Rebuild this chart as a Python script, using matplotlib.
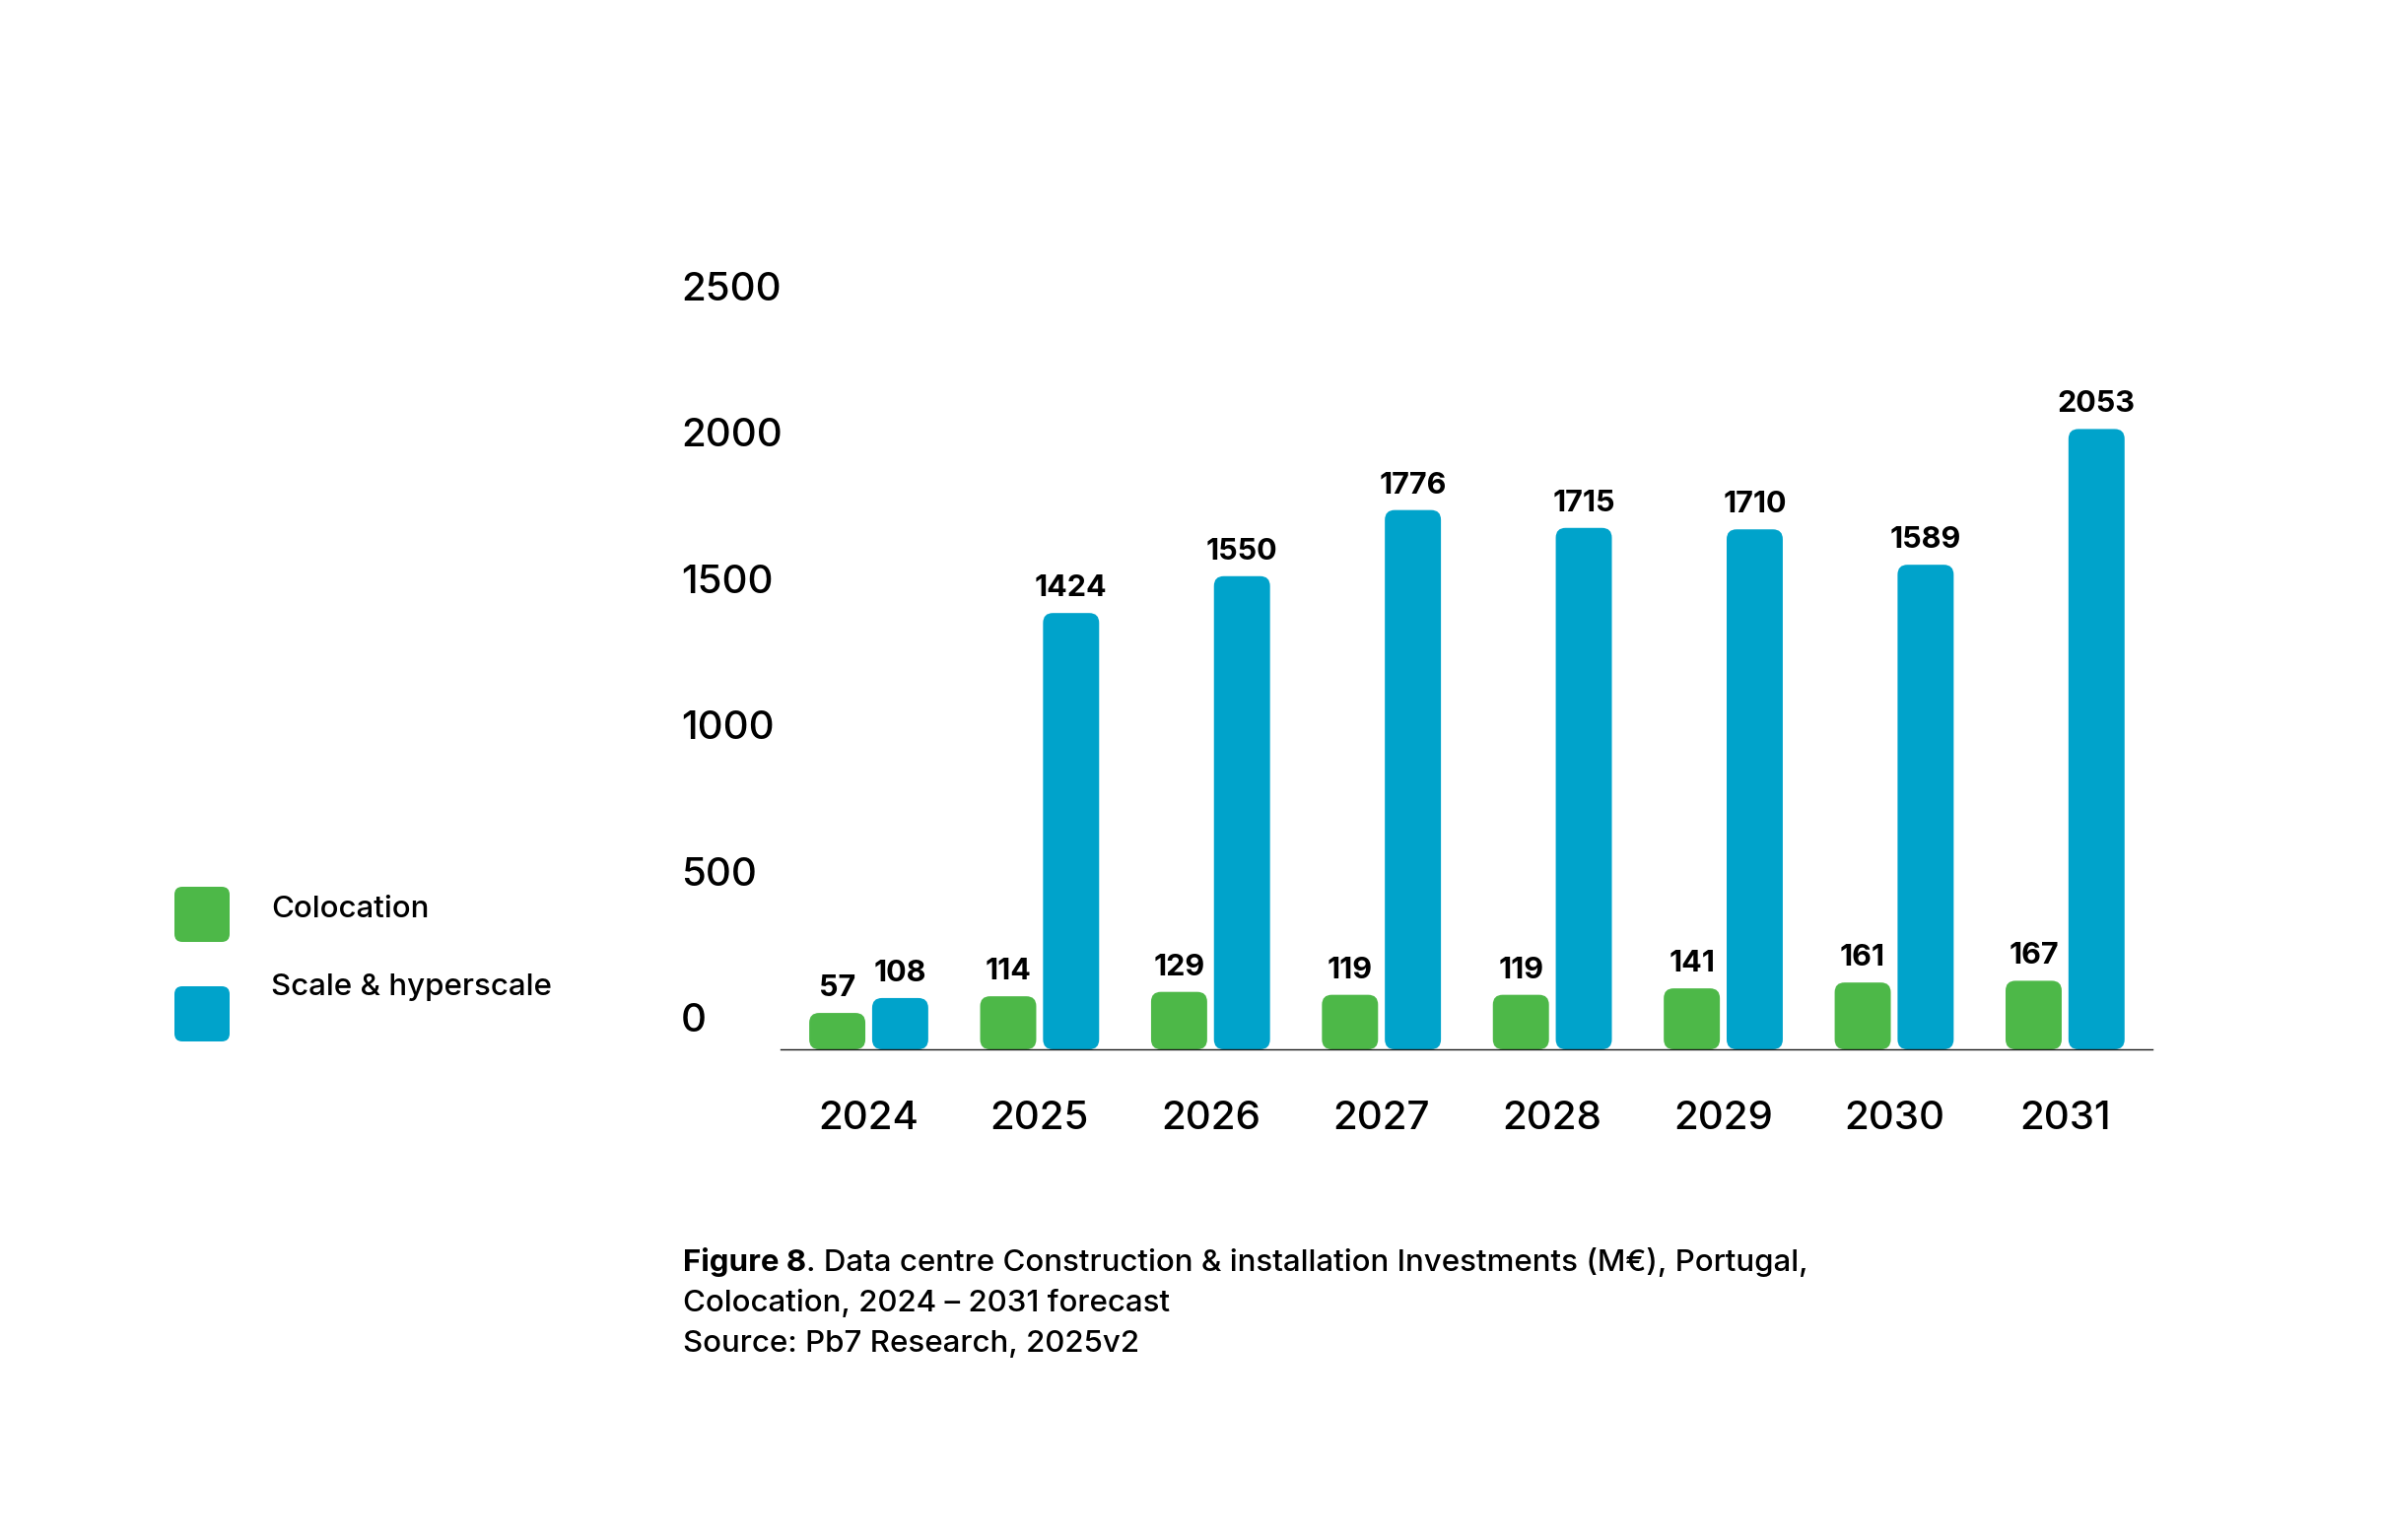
import numpy as np
import matplotlib
matplotlib.use("Agg")
import matplotlib.pyplot as plt
from matplotlib.patches import FancyBboxPatch

# data
years = ['2024', '2025', '2026', '2027', '2028', '2029', '2030', '2031']
colocation = [57, 114, 129, 119, 119, 141, 161, 167]
hyperscale = [108, 1424, 1550, 1776, 1715, 1710, 1589, 2053]
ytick_vals = [0, 500, 1000, 1500, 2000, 2500]
series_names = ['Colocation', 'Scale & hyperscale']
caption_rest = '. Data centre Construction & installation Investments (M\u20ac), Portugal,'
caption_lines = ['Colocation, 2024 \u2013 2031 forecast', 'Source: Pb7 Research, 2025v2']

GREEN = '#4DB848'
BLUE = '#00A3CB'

plt.rcParams['font.family'] = ['Inter', 'DejaVu Sans']
plt.rcParams['font.weight'] = 500

W, H, DPI = 2420, 1563, 100
fig = plt.figure(figsize=(W / DPI, H / DPI), dpi=DPI)

# axes box in pixels: left, top, right, bottom
L, T, R, B = 792, 283, 2184, 1065
ax = fig.add_axes([L / W, 1 - B / H, (R - L) / W, (B - T) / H])

pad_px = 10          # rounded corner that sticks out around each bar
ytop = 2600
py = (B - T - pad_px) / ytop
ax.set_ylim(-pad_px / py, ytop)
xlo, xhi = -0.516, 7.511
ax.set_xlim(xlo, xhi)
px = (R - L) / (xhi - xlo)
aspect = px / py

x = np.arange(len(years))
bw = 0.213
off = 0.184

for vals, shift, col in [(colocation, -off, GREEN), (hyperscale, off, BLUE)]:
    bars = ax.bar(x + shift, vals, width=bw, color=col)
    for b, v in zip(bars, vals):
        ax.add_patch(FancyBboxPatch((b.get_x(), b.get_y()), b.get_width(), b.get_height(),
                                    boxstyle=f'round,pad={pad_px / px},rounding_size={pad_px / px}',
                                    mutation_aspect=aspect, fc=col, ec='none', lw=0, zorder=2))
        b.remove()
        ax.annotate(str(v), (b.get_x() + b.get_width() / 2, v), xytext=(0, 19.5),
                    textcoords='offset points', ha='center', va='baseline',
                    fontsize=22, fontweight='bold', color='black')

for s in ['top', 'right', 'left']:
    ax.spines[s].set_visible(False)
ax.spines['bottom'].set_linewidth(1.0)
ax.spines['bottom'].set_color('#1a1a1a')
ax.spines['bottom'].set_zorder(3)

ax.set_xticks(x, years)
ax.tick_params(axis='x', length=0, pad=37.5, labelsize=29)
ax.set_yticks(ytick_vals, [str(v) for v in ytick_vals])
ax.tick_params(axis='y', length=0, pad=(L - 691) * 72 / DPI, labelsize=29)
for t in ax.get_yticklabels():
    t.set_ha('left')
    t.set_va('bottom')

# legend on the left
sq = 56
legend_pos = [(177, 900, 931), (177, 1001, 1010)]
for (lx, ly, base), col, name in zip(legend_pos, [GREEN, BLUE], series_names):
    fig.add_artist(FancyBboxPatch((lx / W, 1 - (ly + sq) / H), sq / W, sq / H,
                                  boxstyle=f'round,pad=0,rounding_size={8 / W}',
                                  mutation_aspect=W / H, transform=fig.transFigure,
                                  fc=col, ec='none'))
    fig.text(275 / W, 1 - base / H, name, va='baseline', ha='left', fontsize=22.5)

# caption
cx = 693
t_bold = fig.text(cx / W, 1 - 1290 / H, 'Figure 8', fontweight='bold', fontsize=22.5,
                  va='baseline', ha='left')
renderer = fig.canvas.get_renderer()
bb = t_bold.get_window_extent(renderer)
fig.text(bb.x1 / W, 1 - 1290 / H, caption_rest, fontsize=22.5, va='baseline', ha='left')
for i, line in enumerate(caption_lines):
    fig.text(cx / W, 1 - (1331 + 41 * i) / H, line, fontsize=22.5, va='baseline', ha='left')

fig.savefig('out.png', dpi=DPI, facecolor='white')
